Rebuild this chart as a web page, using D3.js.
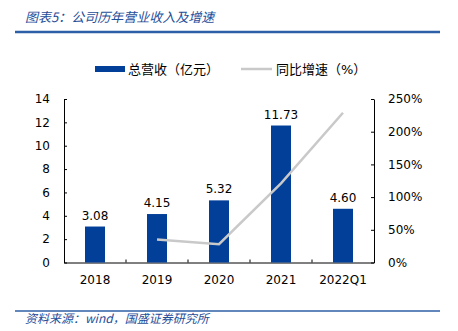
<!DOCTYPE html>
<html>
<head>
<meta charset="utf-8">
<script src="https://cdn.jsdelivr.net/npm/d3@7"></script>
<style>
  body { margin: 0; background: #fff; }
  text { font-family: Tahoma, "DejaVu Sans", "Noto Sans CJK SC", sans-serif; }
</style>
</head>
<body>
<div id="chart"></div>
<script>
// values
const years = ['2018', '2019', '2020', '2021', '2022Q1']
const revenue = [3.08, 4.15, 5.32, 11.73, 4.60]
const growth = [null, 35, 28, 121, 229] // %, first year has no growth
const leftTicks = [0, 2, 4, 6, 8, 10, 12, 14]
const rightTicks = [0, 50, 100, 150, 200, 250]

const W = 458, H = 331
const blue = '#013f98'
const grey = '#c9c9c9'
const titleBlue = '#1f4e9a'

const svg = d3.select('#chart').append('svg')
  .attr('width', W).attr('height', H)

// title + rules
svg.append('text')
  .attr('x', 25).attr('y', 22)
  .attr('font-size', 13)
  .attr('font-style', 'italic')
  .attr('fill', titleBlue)
  .style('font-family', '"Noto Sans CJK SC", sans-serif')
  .text('图表5：公司历年营业收入及增速')

svg.append('line')
  .attr('x1', 15).attr('x2', 440).attr('y1', 32).attr('y2', 32)
  .attr('stroke', '#2d5fa6').attr('stroke-width', 2.5)

svg.append('line')
  .attr('x1', 15).attr('x2', 440).attr('y1', 311).attr('y2', 311)
  .attr('stroke', '#2d5fa6').attr('stroke-width', 1.5)

svg.append('text')
  .attr('x', 25).attr('y', 323)
  .attr('font-size', 12)
  .attr('font-style', 'italic')
  .attr('fill', titleBlue)
  .style('font-family', '"Noto Sans CJK SC", sans-serif')
  .text('资料来源：wind，国盛证券研究所')

// scales
const x = d3.scaleBand().domain(years).range([64, 374])
const yL = d3.scaleLinear().domain([0, 14]).range([262.5, 99])
const yR = d3.scaleLinear().domain([0, 250]).range([262.5, 99])
const barW = 20

// axes
const axisL = svg.append('g').attr('transform', 'translate(64,0)')
  .call(d3.axisLeft(yL).tickValues(leftTicks).tickSizeInner(-3).tickSizeOuter(0).tickPadding(14))
const axisR = svg.append('g').attr('transform', 'translate(374,0)')
  .call(d3.axisRight(yR).tickValues(rightTicks).tickFormat(d => d + '%').tickSizeInner(-3).tickSizeOuter(0).tickPadding(14))
const axisB = svg.append('g').attr('transform', 'translate(0,262.5)')
  .call(d3.axisBottom(x).tickSize(0).tickPadding(13))

// category separator ticks on the bottom axis, pointing up
axisB.selectAll('.sep')
  .data(years.slice(1))
  .enter().append('line')
  .attr('x1', d => x(d)).attr('x2', d => x(d))
  .attr('y1', 0).attr('y2', -3)
  .attr('stroke', '#000')

;[axisL, axisR, axisB].forEach(g => {
  g.select('.domain').attr('stroke', '#000')
  g.selectAll('.tick line').attr('stroke', '#000')
  g.selectAll('text').attr('font-size', 12).attr('fill', '#000')
})
axisL.selectAll('text').attr('text-anchor', 'end')
axisR.selectAll('text').attr('text-anchor', 'start')

// bars
svg.selectAll('.bar')
  .data(revenue)
  .enter().append('rect')
  .attr('class', 'bar')
  .attr('x', (d, i) => x(years[i]) + x.bandwidth() / 2 - barW / 2)
  .attr('width', barW)
  .attr('y', d => yL(d))
  .attr('height', d => yL(0) - yL(d))
  .attr('fill', blue)

svg.selectAll('.lbl')
  .data(revenue)
  .enter().append('text')
  .attr('x', (d, i) => x(years[i]) + x.bandwidth() / 2)
  .attr('y', d => yL(d) - 7)
  .attr('text-anchor', 'middle')
  .attr('font-size', 12)
  .attr('fill', '#000')
  .text(d => d.toFixed(2))

// growth line
const line = d3.line()
  .defined(d => d != null)
  .x((d, i) => x(years[i]) + x.bandwidth() / 2)
  .y(d => yR(d))

svg.append('path')
  .datum(growth)
  .attr('d', line)
  .attr('fill', 'none')
  .attr('stroke', grey)
  .attr('stroke-width', 2.5)

// legend
const leg = svg.append('g').style('font-family', '"Noto Sans CJK SC", sans-serif')
leg.append('rect').attr('x', 95).attr('y', 66).attr('width', 30).attr('height', 6).attr('fill', blue)
leg.append('text').attr('x', 128).attr('y', 74).attr('font-size', 13).attr('fill', '#000').text('总营收（亿元）')
leg.append('line').attr('x1', 241).attr('x2', 272).attr('y1', 69).attr('y2', 69)
  .attr('stroke', grey).attr('stroke-width', 2.5)
leg.append('text').attr('x', 276).attr('y', 74).attr('font-size', 13).attr('fill', '#000').text('同比增速（%）')
</script>
</body>
</html>
